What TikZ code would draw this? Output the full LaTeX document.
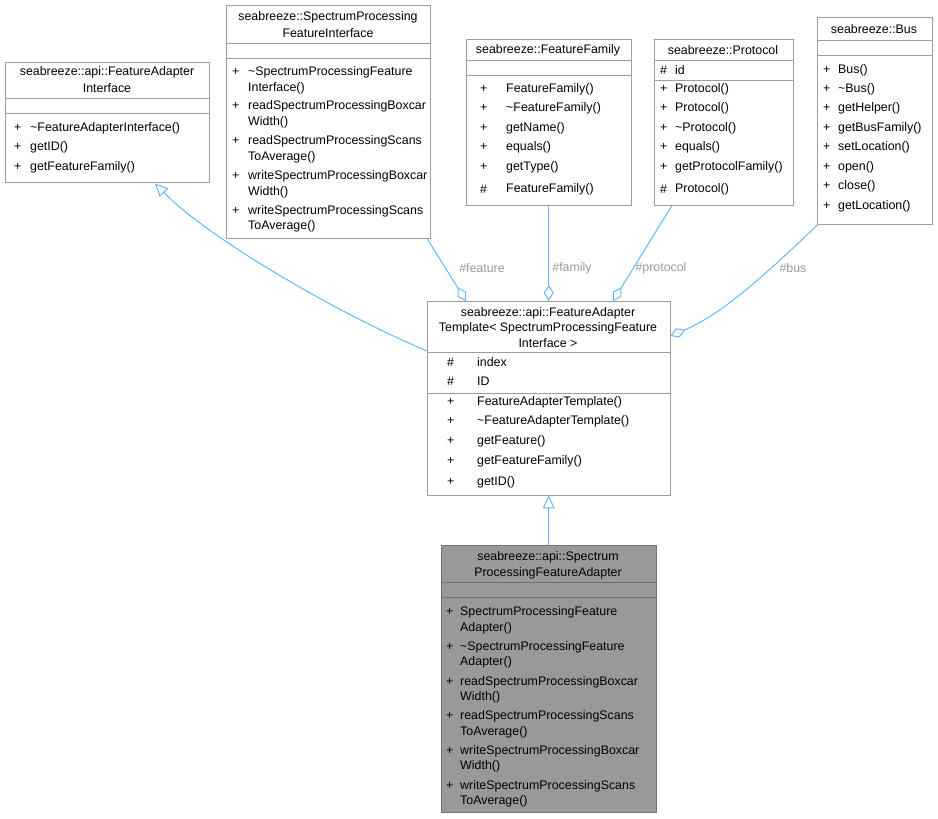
\documentclass[tikz,border=0pt]{standalone}
\usepackage{fontspec}
\setmainfont{Liberation Sans}
\usetikzlibrary{arrows.meta,calc}
\tikzset{
  box/.style={draw=black!38,fill=white,inner sep=0pt,anchor=north west},
  gbox/.style={box,fill=black!40,draw=black!55},
  sep/.style={draw=black!38},
  txt/.style={inner sep=0pt,font=\fontsize{12.4}{14}\selectfont},
  lab/.style={txt,text=black!40},
  edge/.style={draw={rgb,255:red,99;green,184;blue,255},line width=1pt},
  inh/.style={edge,-{Triangle[open,length=13pt,width=12pt,fill=white]}},
  agg/.style={edge,-{Diamond[open,length=16pt,width=10pt,fill=white]}},
}
\newcommand\tx[3]{\node[txt,anchor=west] at (#1,#2) {#3};}
\newcommand\ct[3]{\node[txt] at (#1,#2) {#3};}
\newcommand\hl[3]{\draw[sep] (#1,#3) -- (#2,#3);}
\begin{document}
\begin{tikzpicture}[x=1pt,y=-1pt]
\useasboundingbox (0,0) rectangle (938,819);
% FeatureAdapterInterface
\node[box,minimum width=204pt,minimum height=120pt] (fai) at (5,62) {};
\ct{107}{72}{seabreeze::api::FeatureAdapter}\ct{107}{88}{Interface}
\hl{5}{209}{98}\hl{5}{209}{113}
\tx{14}{128}{+}\tx{30}{128}{\textasciitilde FeatureAdapterInterface()}
\tx{14}{147}{+}\tx{30}{147}{getID()}
\tx{14}{167}{+}\tx{30}{167}{getFeatureFamily()}
% SpectrumProcessingFeatureInterface
\node[box,minimum width=204pt,minimum height=233pt] (spfi) at (226,5) {};
\ct{328}{17}{seabreeze::SpectrumProcessing}\ct{328}{33}{FeatureInterface}
\hl{226}{430}{43}\hl{226}{430}{58}
\tx{232}{72}{+}\tx{248}{72}{\textasciitilde SpectrumProcessingFeature}\tx{248}{88}{Interface()}
\tx{232}{106}{+}\tx{248}{106}{readSpectrumProcessingBoxcar}\tx{248}{122}{Width()}
\tx{232}{141}{+}\tx{248}{141}{readSpectrumProcessingScans}\tx{248}{157}{ToAverage()}
\tx{232}{176}{+}\tx{248}{176}{writeSpectrumProcessingBoxcar}\tx{248}{192}{Width()}
\tx{232}{211}{+}\tx{248}{211}{writeSpectrumProcessingScans}\tx{248}{226}{ToAverage()}
% FeatureFamily
\node[box,minimum width=165pt,minimum height=166pt] (ff) at (466,39) {};
\ct{548}{50}{seabreeze::FeatureFamily}
\hl{466}{631}{60}\hl{466}{631}{75}
\tx{480}{89}{+}\tx{506}{89}{FeatureFamily()}
\tx{480}{108}{+}\tx{506}{108}{\textasciitilde FeatureFamily()}
\tx{480}{128}{+}\tx{506}{128}{getName()}
\tx{480}{147}{+}\tx{506}{147}{equals()}
\tx{480}{167}{+}\tx{506}{167}{getType()}
\tx{480}{189}{\#}\tx{506}{189}{FeatureFamily()}
% Protocol
\node[box,minimum width=139pt,minimum height=166pt] (pr) at (654,39) {};
\ct{723}{50}{seabreeze::Protocol}
\hl{654}{793}{60}\hl{654}{793}{80}
\tx{660}{70}{\#}\tx{675}{70}{id}
\tx{660}{89}{+}\tx{675}{89}{Protocol()}
\tx{660}{108}{+}\tx{675}{108}{Protocol()}
\tx{660}{128}{+}\tx{675}{128}{\textasciitilde Protocol()}
\tx{660}{147}{+}\tx{675}{147}{equals()}
\tx{660}{167}{+}\tx{675}{167}{getProtocolFamily()}
\tx{660}{189}{\#}\tx{675}{189}{Protocol()}
% Bus
\node[box,minimum width=115pt,minimum height=207pt] (bus) at (817,17) {};
\ct{874}{29}{seabreeze::Bus}
\hl{817}{932}{40}\hl{817}{932}{55}
\foreach \y/\m in {70/Bus(),89/\textasciitilde Bus(),108/getHelper(),128/getBusFamily(),147/setLocation(),167/open(),186/close(),206/getLocation()}
  {\tx{823}{\y}{+}\tx{838}{\y}{\m}}
% Template
\node[box,minimum width=243pt,minimum height=194pt] (tmpl) at (427,301) {};
\ct{548}{313}{seabreeze::api::FeatureAdapter}\ct{548}{328}{Template< SpectrumProcessingFeature}\ct{548}{343}{Interface >}
\hl{427}{670}{352}\hl{427}{670}{393}
\tx{447}{362}{\#}\tx{477}{362}{index}
\tx{447}{381}{\#}\tx{477}{381}{ID}
\tx{447}{402}{+}\tx{477}{402}{FeatureAdapterTemplate()}
\tx{447}{421}{+}\tx{477}{421}{\textasciitilde FeatureAdapterTemplate()}
\tx{447}{441}{+}\tx{477}{441}{getFeature()}
\tx{447}{461}{+}\tx{477}{461}{getFeatureFamily()}
\tx{447}{482}{+}\tx{477}{482}{getID()}
% Adapter
\node[gbox,minimum width=215pt,minimum height=267pt] (ad) at (441,545) {};
\ct{548}{557}{seabreeze::api::Spectrum}\ct{548}{573}{ProcessingFeatureAdapter}
\draw[draw=black!55] (441,582) -- (656,582) (441,597) -- (656,597);
\tx{446}{612}{+}\tx{460}{612}{SpectrumProcessingFeature}\tx{460}{628}{Adapter()}
\tx{446}{647}{+}\tx{460}{647}{\textasciitilde SpectrumProcessingFeature}\tx{460}{662}{Adapter()}
\tx{446}{682}{+}\tx{460}{682}{readSpectrumProcessingBoxcar}\tx{460}{697}{Width()}
\tx{446}{716}{+}\tx{460}{716}{readSpectrumProcessingScans}\tx{460}{732}{ToAverage()}
\tx{446}{751}{+}\tx{460}{751}{writeSpectrumProcessingBoxcar}\tx{460}{766}{Width()}
\tx{446}{786}{+}\tx{460}{786}{writeSpectrumProcessingScans}\tx{460}{801}{ToAverage()}
% edges
\draw[inh] (ad.north) -- (tmpl.south);
\draw[inh] ($(tmpl.north west)+(0,50)$) .. controls (330,310) and (205,235) .. ($(fai.south west)+(150,1)$);
\draw[agg] ($(spfi.south west)+(201,0)$) -- ($(tmpl.north west)+(39,0)$);
\draw[agg] (ff.south) -- (tmpl.north);
\draw[agg] ($(pr.south west)+(18,0)$) -- ($(tmpl.north west)+(186,0)$);
\draw[agg] ($(bus.south west)+(1,0)$) .. controls (760,280) and (720,315) .. ($(tmpl.north east)+(0,35)$);
\node[lab] at (482,268) {\#feature};
\node[lab] at (572,268) {\#family};
\node[lab] at (661,268) {\#protocol};
\node[lab] at (793,268) {\#bus};
\end{tikzpicture}
\end{document}
